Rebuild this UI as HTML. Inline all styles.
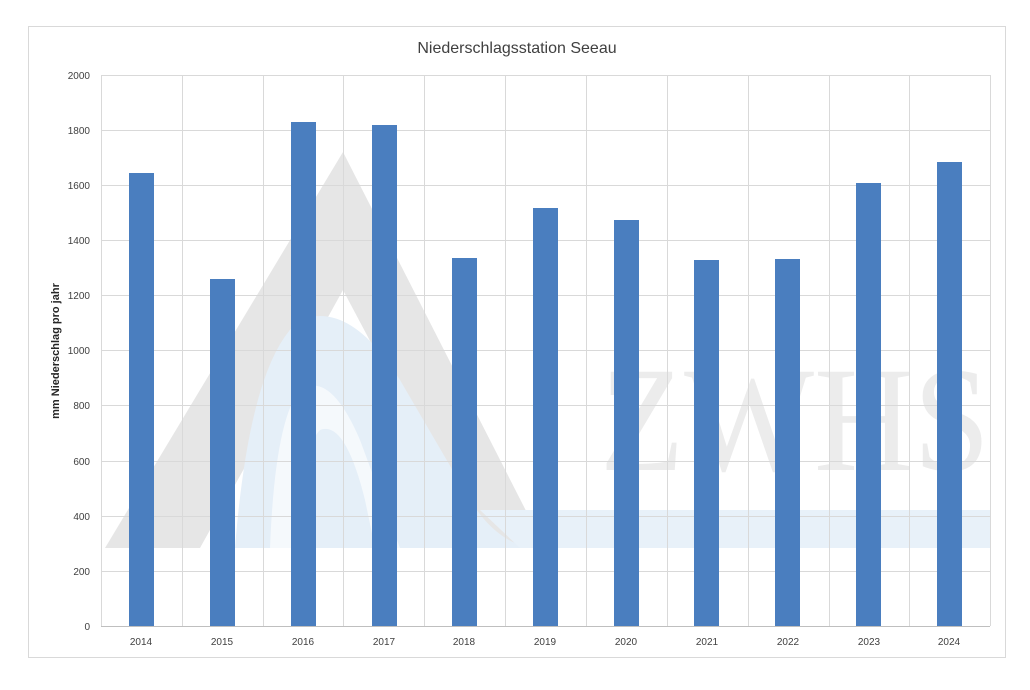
<!DOCTYPE html>
<html><head><meta charset="utf-8"><style>body{margin:0;background:#fff}</style></head>
<body>
<svg width="1030" height="685" xmlns="http://www.w3.org/2000/svg" font-family="Liberation Sans, sans-serif">
<rect x="0" y="0" width="1030" height="685" fill="#fff"/>
<rect x="28.5" y="26.5" width="977" height="631" fill="#fff" stroke="#d9d9d9"/>
<!-- watermark -->
<polygon points="105,548 343,152 545,548 480,548 343,290 200,548" fill="#e6e6e6"/>
<path d="M235,548 Q250,360 300,320 Q350,300 400,380 L470,500 Q500,548 540,548 Z" fill="#e5eff8"/>
<path d="M270,548 Q275,420 300,390 Q330,370 360,440 L400,548 Z" fill="#fff" opacity="0.6"/>
<path d="M300,548 Q300,450 320,430 Q345,420 365,500 L375,548 Z" fill="#e5eff8"/>
<path d="M480,510 L990,510 L990,548 L520,548 Z" fill="#e8f1f9"/>
<text x="600" y="470" font-family="Liberation Serif, serif" font-size="150" fill="#ececec" textLength="390" lengthAdjust="spacingAndGlyphs">ZWHS</text>
<g stroke="#d9d9d9" stroke-width="1">
<line x1="101" y1="75.5" x2="990" y2="75.5"/><line x1="101" y1="130.5" x2="990" y2="130.5"/>
<line x1="101" y1="185.5" x2="990" y2="185.5"/><line x1="101" y1="240.5" x2="990" y2="240.5"/>
<line x1="101" y1="295.5" x2="990" y2="295.5"/><line x1="101" y1="350.5" x2="990" y2="350.5"/>
<line x1="101" y1="405.5" x2="990" y2="405.5"/><line x1="101" y1="461.5" x2="990" y2="461.5"/>
<line x1="101" y1="516.5" x2="990" y2="516.5"/><line x1="101" y1="571.5" x2="990" y2="571.5"/>
<line x1="101.5" y1="75" x2="101.5" y2="626"/><line x1="182.5" y1="75" x2="182.5" y2="626"/>
<line x1="263.5" y1="75" x2="263.5" y2="626"/><line x1="343.5" y1="75" x2="343.5" y2="626"/>
<line x1="424.5" y1="75" x2="424.5" y2="626"/><line x1="505.5" y1="75" x2="505.5" y2="626"/>
<line x1="586.5" y1="75" x2="586.5" y2="626"/><line x1="667.5" y1="75" x2="667.5" y2="626"/>
<line x1="748.5" y1="75" x2="748.5" y2="626"/><line x1="829.5" y1="75" x2="829.5" y2="626"/>
<line x1="909.5" y1="75" x2="909.5" y2="626"/><line x1="990.5" y1="75" x2="990.5" y2="626"/>
</g>
<g fill="#4a7ebf">
<rect x="129" y="173" width="25" height="453"/>
<rect x="210" y="279" width="25" height="347"/>
<rect x="291" y="122" width="25" height="504"/>
<rect x="372" y="125" width="25" height="501"/>
<rect x="452" y="258" width="25" height="368"/>
<rect x="533" y="208" width="25" height="418"/>
<rect x="614" y="220" width="25" height="406"/>
<rect x="694" y="260" width="25" height="366"/>
<rect x="775" y="259" width="25" height="367"/>
<rect x="856" y="183" width="25" height="443"/>
<rect x="937" y="162" width="25" height="464"/>
</g>
<line x1="101" y1="626.5" x2="990" y2="626.5" stroke="#bfbfbf"/>
<text x="517" y="53" text-anchor="middle" font-size="16" fill="#404040">Niederschlagsstation Seeau</text>
<g font-size="10" fill="#404040" text-anchor="end">
<text x="90" y="79">2000</text><text x="90" y="134">1800</text><text x="90" y="189">1600</text>
<text x="90" y="244">1400</text><text x="90" y="299">1200</text><text x="90" y="354">1000</text>
<text x="90" y="409">800</text><text x="90" y="465">600</text><text x="90" y="520">400</text>
<text x="90" y="575">200</text><text x="90" y="630">0</text>
</g>
<g font-size="10" fill="#404040" text-anchor="middle">
<text x="141" y="645">2014</text><text x="222" y="645">2015</text><text x="303" y="645">2016</text>
<text x="384" y="645">2017</text><text x="464" y="645">2018</text><text x="545" y="645">2019</text>
<text x="626" y="645">2020</text><text x="707" y="645">2021</text><text x="788" y="645">2022</text>
<text x="869" y="645">2023</text><text x="949" y="645">2024</text>
</g>
<text transform="translate(59,351) rotate(-90)" text-anchor="middle" font-size="11" font-weight="bold" fill="#262626">mm Niederschlag pro jahr</text>
</svg>
</body></html>
